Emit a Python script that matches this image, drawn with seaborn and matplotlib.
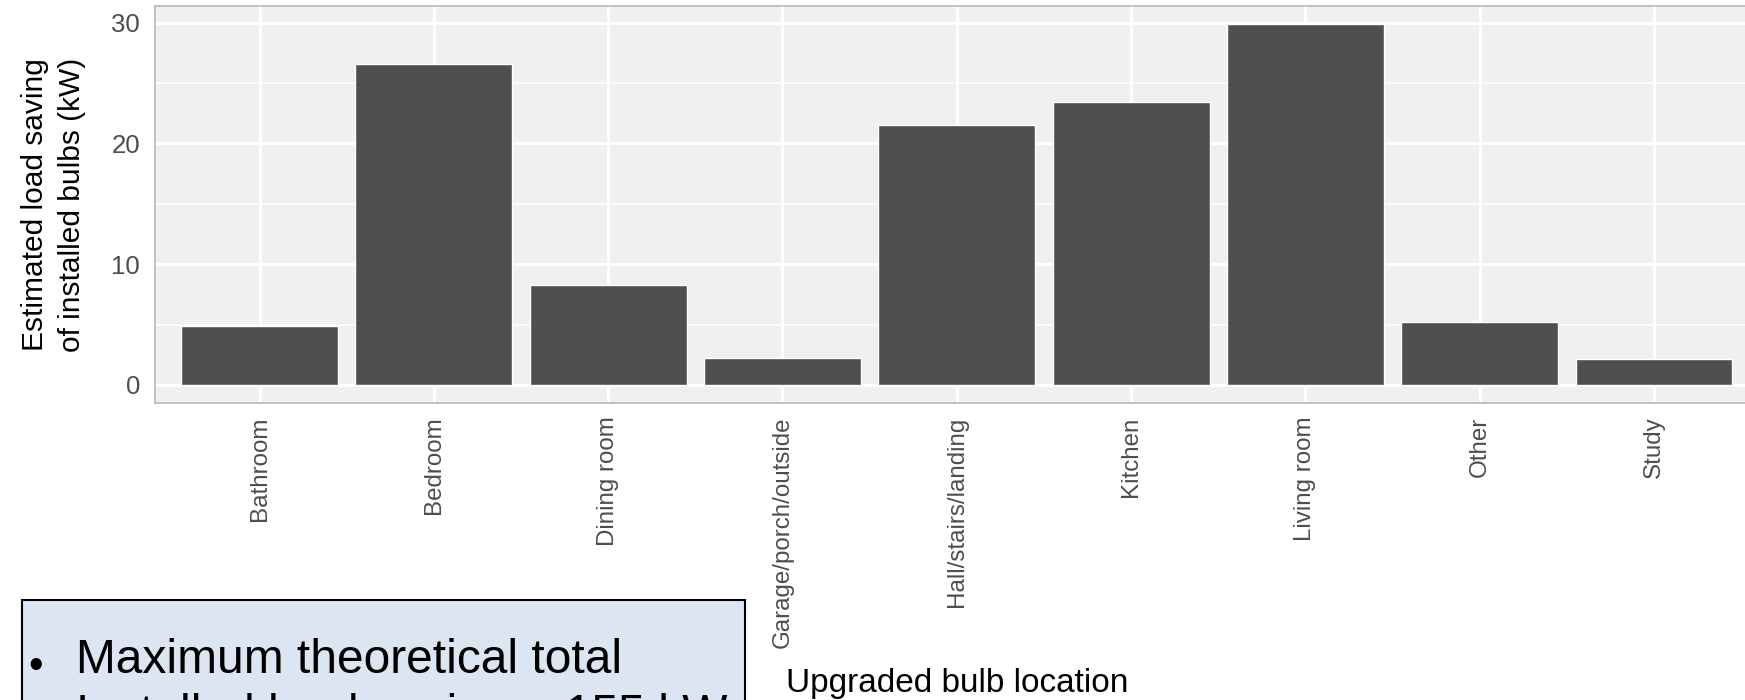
import matplotlib
matplotlib.use('Agg')
import matplotlib.pyplot as plt
import seaborn as sns
import pandas as pd
from matplotlib.patches import Rectangle
from matplotlib.ticker import MultipleLocator

locations = ['Bathroom', 'Bedroom', 'Dining room', 'Garage/porch/outside',
             'Hall/stairs/landing', 'Kitchen', 'Living room', 'Other', 'Study']
saving_kw = [4.9, 26.6, 8.3, 2.2, 21.5, 23.4, 29.9, 5.2, 2.15]
y_ticks = [0, 10, 20, 30]

df = pd.DataFrame({'location': locations, 'saving': saving_kw})

sns.set_style('white')
plt.rcParams['font.family'] = ['Liberation Sans', 'DejaVu Sans']
plt.rcParams['text.color'] = 'black'

fig = plt.figure(figsize=(17.45, 7), dpi=100)
ax = fig.add_axes([155 / 1745, 297 / 700, 1603.6 / 1745, 397.2 / 700])
ax.set_facecolor('#F0F0F0')

sns.barplot(data=df, x='location', y='saving', color='#4F4F4F', saturation=1,
            width=0.9, ax=ax, zorder=3)

ax.set_xlim(-0.6, 8.6)
ax.set_ylim(-1.495, 31.395)
ax.set_yticks(y_ticks)
ax.yaxis.set_minor_locator(MultipleLocator(5))
ax.set_axisbelow(True)
ax.grid(which='major', axis='both', color='white', lw=2.2, zorder=0)
ax.grid(which='minor', axis='y', color='white', lw=1.1, zorder=0)
ax.tick_params(axis='y', which='minor', length=0)

for sp in ax.spines.values():
    sp.set_color('#BDBDBD')
    sp.set_linewidth(1.3)

ax.tick_params(axis='both', which='major', length=6.3, width=1.4, color='#333333',
               labelcolor='#4D4D4D', pad=3.5)
ax.tick_params(axis='x', labelsize=17.4)
ax.tick_params(axis='y', labelsize=18.5, pad=4.5)
plt.setp(ax.get_xticklabels(), rotation=90, ha='center', va='top')

ax.set_ylabel('Estimated load saving\nof installed bulbs (kW)', fontsize=21.5,
              color='black', linespacing=1.4, labelpad=18)
ax.set_xlabel('Upgraded bulb location', fontsize=24, color='black')
ax.xaxis.set_label_coords(0.5, -0.705)
ax.xaxis.label.set_va('center')

# note box at the bottom left
fig.add_artist(Rectangle((22 / 1745, -0.1), 723 / 1745, 0.1 + 100 / 700,
                         transform=fig.transFigure, facecolor='#DCE6F2',
                         edgecolor='black', lw=1.5))
fig.text(36 / 1745, 1 - 678 / 700, '•', fontsize=30, ha='center', va='baseline')
fig.text(76 / 1745, 1 - 673 / 700, 'Maximum theoretical total', fontsize=34.5,
         ha='left', va='baseline')
fig.text(76 / 1745, 1 - 728 / 700, 'Installed load saving = 155 kW', fontsize=34.5,
         ha='left', va='baseline')

fig.savefig('out.png', dpi=100)
